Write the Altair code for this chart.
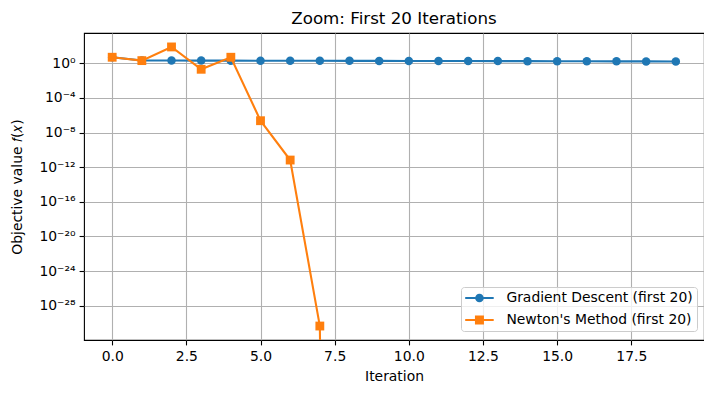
import altair as alt
import pandas as pd

# ---- data ----
GD_NAME = "Gradient Descent (first 20)"
NT_NAME = "Newton's Method (first 20)"

gd_iterations = list(range(20))
gd_values = [4.9, 2.1, 2.05, 2.0, 1.98, 1.95, 1.93, 1.9, 1.88, 1.86,
             1.83, 1.81, 1.79, 1.76, 1.74, 1.71, 1.68, 1.65, 1.62, 1.58]

# Newton reaches f = 0 after iteration 7; on a log axis that is drawn clipped far below
nt_iterations = list(range(20))
nt_values = [4.9, 2.0, 76.0, 0.2, 4.9, 2.3e-7, 6.6e-12, 4.5e-31,
             1e-300, 1e-300, 1e-300, 1e-300, 1e-300, 1e-300, 1e-300, 1e-300,
             1e-300, 1e-300, 1e-300, 1e-300]

x_ticks = [0, 2.5, 5, 7.5, 10, 12.5, 15, 17.5]
y_ticks = [1e0, 1e-4, 1e-8, 1e-12, 1e-16, 1e-20, 1e-24, 1e-28]
x_domain = [-0.95, 19.95]
y_domain = [10 ** -31.96, 10 ** 3.49]

series_names = [GD_NAME, NT_NAME]
series_colors = ["#1f77b4", "#ff7f0e"]

df = pd.concat([
    pd.DataFrame({"iteration": gd_iterations, "value": gd_values, "series": GD_NAME}),
    pd.DataFrame({"iteration": nt_iterations, "value": nt_values, "series": NT_NAME}),
], ignore_index=True)
legend_df = pd.DataFrame({"series": series_names})

# legend symbols: line segment with marker (matplotlib style); 6 px per path unit
seg = "M-2.375,-0.175H-0.7V0.175H-2.375Z M0.7,-0.175H2.375V0.175H0.7Z "
circle_sym = seg + "M0.717,0A0.717,0.717 0 1,1 -0.717,0A0.717,0.717 0 1,1 0.717,0Z"
square_sym = seg + "M-0.75,-0.75H0.75V0.75H-0.75Z"

FONT = "DejaVu Sans"

sup = [("-", "⁻"), ("0", "⁰"), ("1", "¹"), ("2", "²"), ("3", "³"), ("4", "⁴"),
       ("5", "⁵"), ("6", "⁶"), ("7", "⁷"), ("8", "⁸"), ("9", "⁹")]
expr = "toString(round(log(datum.value)/LN10))"
for a, b in sup:
    expr = f"replace({expr},'{a}','{b}')"
y_label_expr = "'10' + " + expr

legend_spec = alt.Legend(
    title=None, orient="none", legendX=377, legendY=254,
    fillColor="rgba(255,255,255,0.8)", strokeColor="#cccccc", cornerRadius=3,
    padding=4, labelFont=FONT, labelFontSize=13.9, labelColor="black", labelLimit=400,
    symbolSize=144, symbolStrokeWidth=0, symbolOpacity=1,
    symbolOffset=7.5, labelOffset=20, rowPadding=7,
)

color_scale = alt.Scale(domain=series_names, range=series_colors)
x_enc = alt.X("iteration:Q", scale=alt.Scale(domain=x_domain, nice=False, zero=False),
              axis=alt.Axis(values=x_ticks, format=".1f", title="Iteration",
                            labelPadding=5, titlePadding=6))
y_enc = alt.Y("value:Q", scale=alt.Scale(type="log", domain=y_domain, nice=False),
              axis=alt.Axis(values=y_ticks, labelExpr=y_label_expr, labelPadding=4,
                            title="Objective value 𝑓(𝑥)", titleX=-67, titleY=153.5,
                            titleBaseline="middle", titleAlign="center", titleAngle=270))
c_enc = alt.Color("series:N", scale=color_scale, legend=legend_spec)

base = alt.Chart(df).encode(x=x_enc, y=y_enc, color=c_enc)

gd_line = base.transform_filter(alt.datum.series == GD_NAME).mark_line(strokeWidth=2.08, clip=True)
gd_pts = base.transform_filter(alt.datum.series == GD_NAME).mark_point(
    shape="circle", filled=True, size=72, opacity=1, strokeWidth=1, clip=True)
nt_line = base.transform_filter(alt.datum.series == NT_NAME).mark_line(strokeWidth=2.08, clip=True)
nt_pts = base.transform_filter(alt.datum.series == NT_NAME).mark_point(
    shape="square", filled=True, size=78, opacity=1, strokeWidth=1, clip=True)

legend_layer = alt.Chart(legend_df).mark_point(filled=True, opacity=0).encode(
    color=c_enc,
    shape=alt.Shape("series:N", scale=alt.Scale(domain=series_names, range=[circle_sym, square_sym]),
                    legend=legend_spec),
)

chart = alt.layer(gd_line, gd_pts, nt_line, nt_pts, legend_layer).properties(
    width=620, height=307,
    title=alt.TitleParams("Zoom: First 20 Iterations", font=FONT, fontSize=16.7,
                          fontWeight="normal", color="black", offset=5.5, anchor="middle"),
    autosize=alt.AutoSizeParams(type="none"),
    padding={"left": 76, "top": 25, "right": 0, "bottom": 50},
).configure_view(
    stroke="black", strokeWidth=1.1, fill="white"
).configure_axis(
    domain=False, grid=True, gridColor="#b0b0b0", gridWidth=1.1,
    ticks=True, tickColor="black", tickWidth=1.1, tickSize=4.9,
    labelFont=FONT, labelFontSize=13.9, labelColor="black",
    titleFont=FONT, titleFontSize=13.9, titleFontWeight="normal", titleColor="black",
)

chart.save("out.html", embed_options={"renderer": "svg", "actions": False})
